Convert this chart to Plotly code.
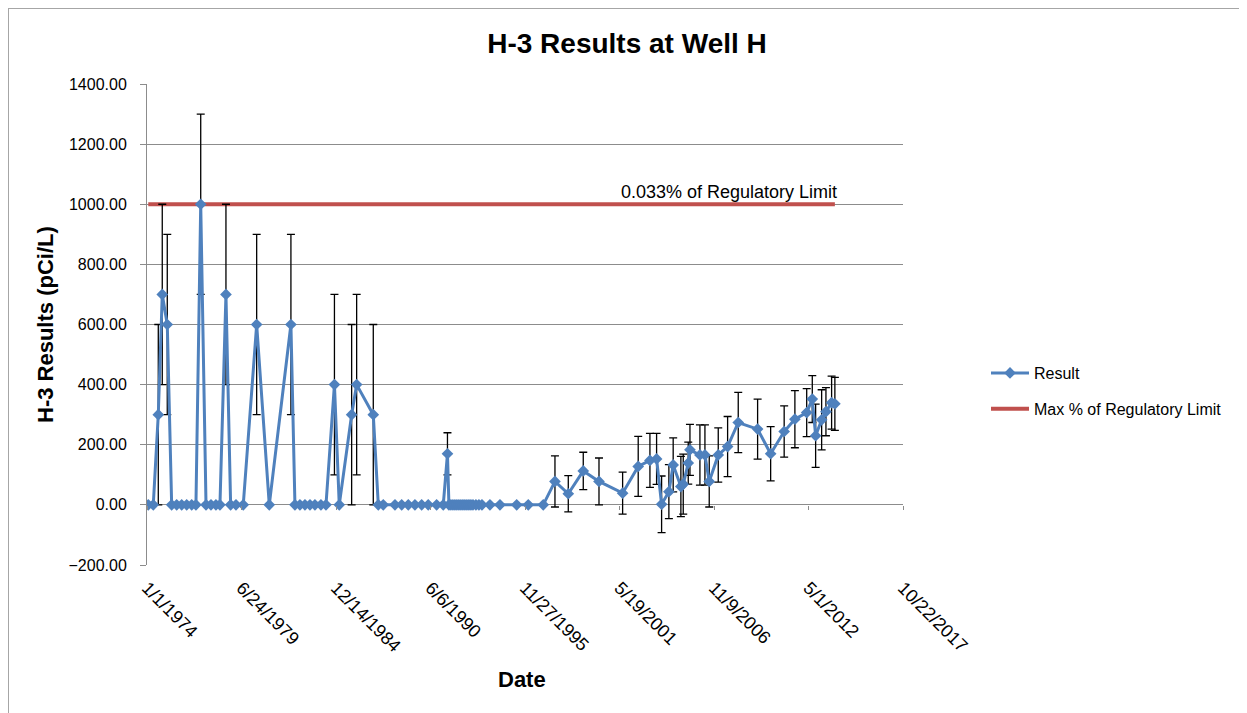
import pandas as pd
import plotly.graph_objects as go

# ---------------------------------------------------------------------------
# Data
# ---------------------------------------------------------------------------

result_dates = [
    "1974-01-28", "1974-05-14", "1974-08-28", "1974-11-20", "1975-03-06",
    "1975-06-07", "1975-09-21", "1976-01-05", "1976-04-20", "1976-08-04",
    "1976-11-02", "1977-02-11", "1977-06-03", "1977-09-16", "1977-12-30",
    "1978-03-25", "1978-07-30", "1978-11-06", "1979-02-27", "1979-07-31",
    "1980-05-10", "1981-02-01", "1982-05-05", "1982-07-29", "1982-11-12",
    "1983-02-26", "1983-06-12", "1983-09-25", "1984-01-30", "1984-05-16",
    "1984-11-11", "1985-02-21", "1985-11-10", "1986-02-24", "1987-02-11",
    "1987-05-28", "1987-09-10", "1988-05-15", "1988-10-04", "1989-02-21",
    "1989-07-12", "1989-12-01", "1990-04-19", "1990-10-14", "1991-03-03",
    "1991-05-31", "1991-07-01", "1991-08-12", "1991-09-24", "1991-11-05",
    "1991-12-17", "1992-01-29", "1992-03-11", "1992-04-23", "1992-06-04",
    "1992-07-16", "1992-08-28", "1992-10-09", "1992-11-21", "1993-01-23",
    "1993-03-27", "1993-05-30", "1993-11-15", "1994-06-15", "1995-06-04",
    "1996-02-04", "1996-12-17", "1997-08-22", "1998-05-31", "1999-04-13",
    "2000-03-11", "2001-07-24", "2002-06-19", "2003-02-22", "2003-07-13",
    "2003-10-27", "2004-03-29", "2004-06-28", "2004-12-08", "2005-01-27",
    "2005-05-13", "2005-06-18", "2006-01-15", "2006-05-01", "2006-07-31",
    "2007-02-07", "2007-08-24", "2008-04-05", "2009-05-20", "2010-02-20",
    "2010-12-03", "2011-07-18", "2012-03-24", "2012-07-20", "2012-09-29",
    "2013-02-03", "2013-05-05", "2013-09-02", "2013-11-10",
]

result_values = [
    0, 0, 300, 700, 600,
    0, 0, 0, 0, 0,
    0, 1000, 0, 0, 0,
    0, 700, 0, 0, 0,
    600, 0, 600, 0, 0,
    0, 0, 0, 0, 0,
    400, 0, 300, 400, 300,
    0, 0, 0, 0, 0,
    0, 0, 0, 0, 0,
    170, 0, 0, 0, 0,
    0, 0, 0, 0, 0,
    0, 0, 0, 0, 0,
    0, 0, 0, 0, 0,
    0, 0, 78, 37, 113,
    78, 39, 128, 148, 153,
    2, 44, 133, 61, 69,
    139, 183, 166, 166, 78,
    166, 194, 274, 252, 170,
    244, 285, 307, 352, 230,
    283, 310, 340, 336,
]

result_errors = [
    0, 0, 300, 300, 300,
    0, 0, 0, 0, 0,
    0, 300, 0, 0, 0,
    0, 300, 0, 0, 0,
    300, 0, 300, 0, 0,
    0, 0, 0, 0, 0,
    300, 0, 300, 300, 300,
    0, 0, 0, 0, 0,
    0, 0, 0, 0, 0,
    70, 0, 0, 0, 0,
    0, 0, 0, 0, 0,
    0, 0, 0, 0, 0,
    0, 0, 0, 0, 0,
    0, 0, 85, 60, 62,
    78, 70, 100, 90, 85,
    94, 90, 90, 100, 100,
    70, 85, 100, 100, 85,
    90, 100, 100, 100, 90,
    85, 95, 80, 78, 105,
    100, 80, 88, 88,
]

limit_value = 1000.0
limit_label = "0.033% of Regulatory Limit"

x_tick_dates = pd.date_range("1974-01-01", periods=9, freq="2000D")
x_tick_labels = [f"{d.month}/{d.day}/{d.year}" for d in x_tick_dates]

# ---------------------------------------------------------------------------
# Styling
# ---------------------------------------------------------------------------

BLUE = "#4f81bd"
RED = "#c0504d"
GRID = "#8c8c8c"
FONT = "Liberation Sans, Arial, sans-serif"

# the page body adds an 8px margin, so the figure sits 8px in from the corner
OFF = 8
W, H = 1247 - OFF, 713 - OFF
# plot-area edges in screenshot pixels
PLOT_L, PLOT_R, PLOT_T, PLOT_B = 147, 903, 84, 565


def px_x(px):
    return (px - PLOT_L) / (PLOT_R - PLOT_L)


def px_y(py):
    return (PLOT_B - py) / (PLOT_B - PLOT_T)


x_range = [x_tick_dates[0], x_tick_dates[-1]]

fig = go.Figure()

# regulatory limit line (spans the sampling period)
fig.add_trace(go.Scatter(
    x=[result_dates[0], result_dates[-1]],
    y=[limit_value, limit_value],
    mode="lines",
    name="Max % of Regulatory Limit",
    legendrank=2,
    legendgroup="limit",
    line=dict(color=RED, width=4),
    hoverinfo="skip",
))

fig.add_trace(go.Scatter(
    x=result_dates,
    y=result_values,
    mode="lines+markers",
    name="Result",
    legendrank=1,
    legendgroup="result",
    line=dict(color=BLUE, width=3),
    marker=dict(symbol="diamond", size=9, color=BLUE),
    error_y=dict(type="data", array=result_errors, visible=True,
                 color="black", thickness=1.3, width=4),
    hovertemplate="%{x}<br>%{y:.2f} pCi/L<extra></extra>",
))

# dummy trace so the tick marks on the zero line get drawn
fig.add_trace(go.Scatter(
    x=[x_range[0]], y=[0], xaxis="x2", mode="markers",
    marker=dict(opacity=0), showlegend=False, hoverinfo="skip",
))

fig.add_annotation(
    text=limit_label, xref="paper", yref="y",
    x=px_x(839), y=limit_value, xanchor="right", yanchor="bottom",
    showarrow=False, font=dict(family=FONT, size=18, color="black"),
)
fig.add_annotation(
    text="<b>H-3 Results (pCi/L)</b>", xref="paper", yref="paper",
    x=px_x(45), y=px_y(325), xanchor="center", yanchor="middle",
    textangle=-90, showarrow=False,
    font=dict(family=FONT, size=22, color="black"),
)
fig.add_annotation(
    text="<b>Date</b>", xref="paper", yref="paper",
    x=px_x(522), y=px_y(679), xanchor="center", yanchor="middle",
    showarrow=False,
    font=dict(family=FONT, size=22, color="black"),
)

# chart frame (spreadsheet chart object border)
fig.add_shape(
    type="rect", xref="paper", yref="paper",
    x0=px_x(OFF), x1=px_x(1260), y0=px_y(730), y1=px_y(OFF),
    line=dict(color="#a6a6a6", width=2),
)

fig.update_layout(
    width=W, height=H,
    paper_bgcolor="white", plot_bgcolor="white",
    margin=dict(l=PLOT_L - OFF, r=W + OFF - PLOT_R, t=PLOT_T - OFF, b=H + OFF - PLOT_B),
    title=dict(text="<b>H-3 Results at Well H</b>", x=(627 - OFF) / W,
               xanchor="center", y=1 - (43 - OFF) / H, yanchor="middle",
               font=dict(family=FONT, size=28, color="black")),
    font=dict(family=FONT, size=16, color="black"),
    xaxis=dict(
        type="date", range=x_range, tickvals=x_tick_dates, ticktext=x_tick_labels,
        tickangle=45, showgrid=False, zeroline=False, showline=False,
        ticks="", tickfont=dict(size=18), ticklabelstandoff=8,
    ),
    xaxis2=dict(
        type="date", range=x_range, tickvals=x_tick_dates, overlaying="x",
        anchor="free", position=px_y(505), showgrid=False, zeroline=False,
        showline=False, ticks="outside", ticklen=4, tickcolor=GRID,
        showticklabels=False,
    ),
    yaxis=dict(
        range=[-200, 1400], dtick=200, tickformat=".2f",
        showgrid=True, gridcolor=GRID, gridwidth=1, zeroline=False,
        showline=True, linecolor=GRID, linewidth=1,
        ticks="outside", ticklen=6, tickcolor=GRID, tickfont=dict(size=16),
        ticklabelstandoff=10,
    ),
    legend=dict(
        x=px_x(986), y=px_y(391), xanchor="left", yanchor="middle",
        font=dict(size=16), tracegroupgap=12, itemwidth=38,
        bgcolor="rgba(0,0,0,0)",
    ),
    showlegend=True,
)

fig.write_html("out.html")
